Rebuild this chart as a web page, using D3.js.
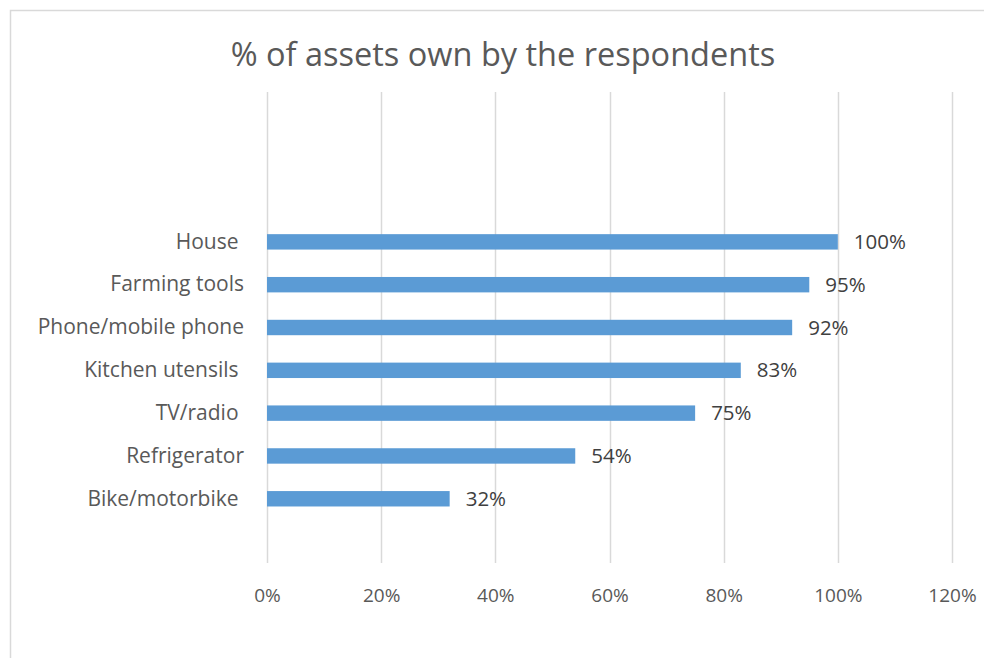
<!DOCTYPE html>
<html>
<head>
<meta charset="utf-8">
<script src="https://cdn.jsdelivr.net/npm/d3@7"></script>
<style>
  html, body { margin: 0; padding: 0; background: #fff; }
  svg { display: block; }
  text { font-family: "Open Sans", Lato, "Liberation Sans", sans-serif; }
</style>
</head>
<body>
<svg id="chart" width="984" height="658"></svg>
<script>
// Asset ownership shares (percent of respondents), listed bottom to top
const categories = ["Bike/motorbike ", "Refrigerator", "TV/radio ", "Kitchen utensils ",
                    "Phone/mobile phone", "Farming tools", "House "];
const values = [32, 54, 75, 83, 92, 95, 100];
const tickValues = [0, 20, 40, 60, 80, 100, 120];
const title = "% of assets own by the respondents";

// The category axis also holds blank rows: one below the data and three above it
const blankBelow = ["_b0"];
const blankAbove = ["_b1", "_b2", "_b3"];
const slots = [...blankBelow, ...categories, ...blankAbove];

const svg = d3.select("#chart");

// chart-area frame
svg.append("rect")
  .attr("x", 10.5).attr("y", 10.5)
  .attr("width", 1000).attr("height", 700)
  .attr("fill", "#fff")
  .attr("stroke", "#D9D9D9").attr("stroke-width", 1.5);

const plot = { left: 267, right: 952, top: 92, bottom: 563 };

const x = d3.scaleLinear().domain([0, 120]).range([plot.left, plot.right]);
const y = d3.scaleBand().domain(slots).range([plot.bottom, plot.top]).paddingInner(0).paddingOuter(0);
const barH = y.bandwidth() * 0.36;

// title
svg.append("text")
  .attr("x", 503).attr("y", 66)
  .attr("text-anchor", "middle")
  .attr("font-size", 32.5)
  .attr("fill", "#595959")
  .text(title);

// vertical gridlines
svg.append("g")
  .selectAll("line")
  .data(tickValues)
  .join("line")
  .attr("x1", d => Math.round(x(d)) + 0.5).attr("x2", d => Math.round(x(d)) + 0.5)
  .attr("y1", plot.top).attr("y2", plot.bottom)
  .attr("stroke", "#D9D9D9").attr("stroke-width", 1.5);

// value axis labels
const xAxis = d3.axisBottom(x).tickValues(tickValues).tickSize(0).tickPadding(0)
  .tickFormat(d => d + "%");
const gx = svg.append("g").attr("transform", `translate(0,${plot.bottom + 25})`).call(xAxis);
gx.select(".domain").remove();
gx.selectAll("text")
  .attr("font-size", 19)
  .attr("fill", "#595959")
  .attr("font-family", "Lato, 'Open Sans', sans-serif");

// category axis labels
const yAxis = d3.axisLeft(y).tickValues(categories).tickSize(0).tickPadding(0);
const gy = svg.append("g").attr("transform", `translate(${plot.left - 23},0)`).call(yAxis);
gy.select(".domain").remove();
gy.selectAll("text")
  .attr("font-size", 21)
  .attr("fill", "#595959")
  .attr("font-family", "'Open Sans', Lato, sans-serif")
  .style("white-space", "pre");

// bars
const rows = categories.map((c, i) => ({ c, v: values[i] }));
svg.append("g")
  .selectAll("rect")
  .data(rows)
  .join("rect")
  .attr("x", x(0))
  .attr("y", d => y(d.c) + (y.bandwidth() - barH) / 2)
  .attr("width", d => x(d.v) - x(0))
  .attr("height", barH)
  .attr("fill", "#5B9BD5");

// data labels
svg.append("g")
  .selectAll("text")
  .data(rows)
  .join("text")
  .attr("x", d => x(d.v) + 16)
  .attr("y", d => y(d.c) + y.bandwidth() / 2)
  .attr("dy", "0.35em")
  .attr("font-size", 20.5)
  .attr("fill", "#404040")
  .text(d => d.v + "%");
</script>
</body>
</html>
